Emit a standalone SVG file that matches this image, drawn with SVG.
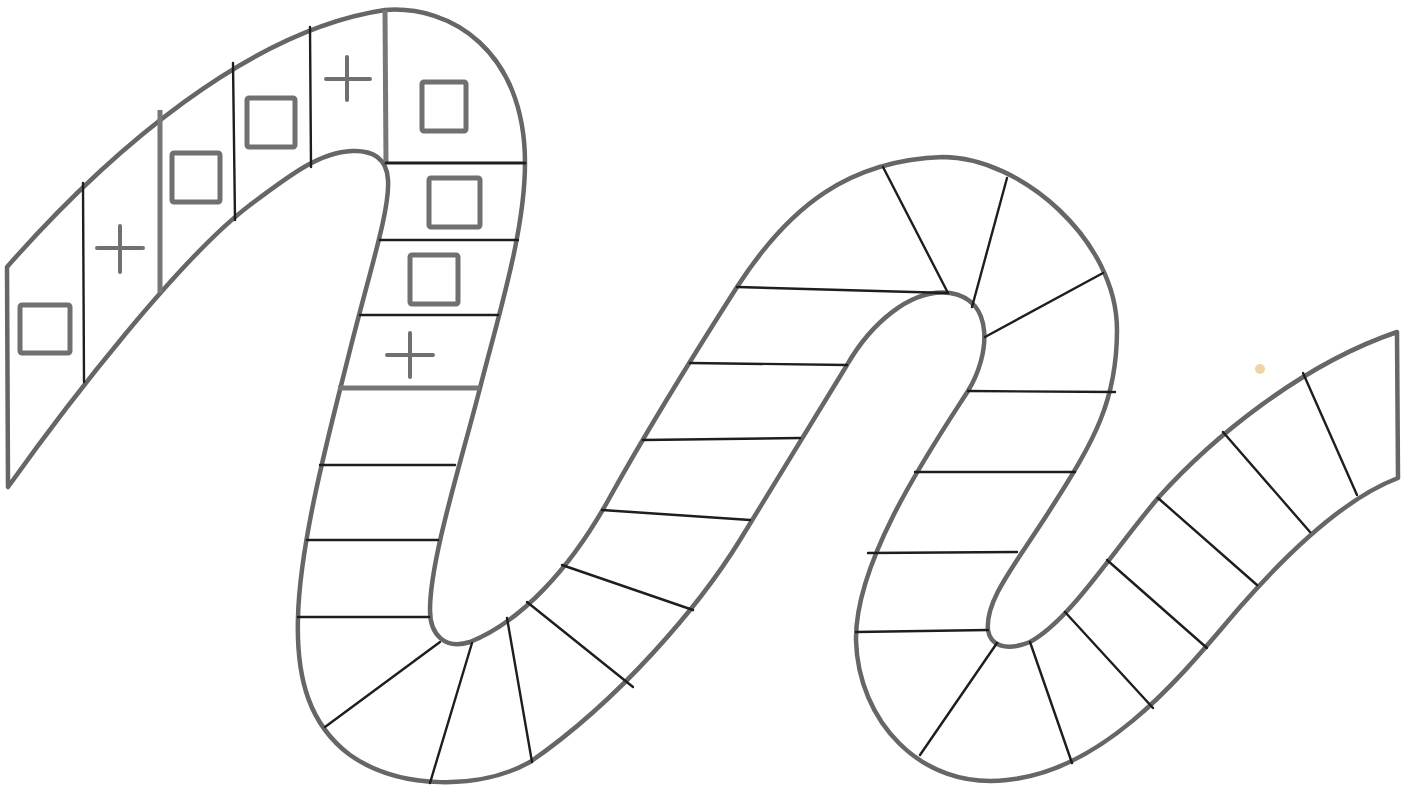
<svg xmlns="http://www.w3.org/2000/svg" width="1409" height="787" viewBox="0 0 1409 787">
<style>
.outline{fill:#fff;stroke:#666;stroke-width:4.5;stroke-linejoin:round}
.div{stroke:#1e1e1e;stroke-width:2.4;stroke-linecap:round;fill:none}
.thick{stroke:#777;stroke-width:5;stroke-linecap:butt;fill:none}
.sq{fill:none;stroke:#707070;stroke-width:5}
.plus{stroke:#707070;stroke-width:4;stroke-linecap:round;fill:none}
</style>
<rect width="1409" height="787" fill="#fff"/>
<g id="track">
<path class="outline" d="M7,267 C110,150 250,30 385,10 C450,5 525,50 525,163 C525,230 500,310 480,388 C460,466 430,560 430,610 C430,635 445,650 470,642 C520,622 570,570 610,497 C650,425 700,345 737,287 C790,205 850,160 943,157 C1020,157 1117,240 1117,330 C1117,400 1095,440 1050,510 C1015,565 985,600 988,630 C990,645 1005,652 1030,642 C1070,620 1110,555 1158,498 C1210,440 1300,365 1397,332 L1398,478 C1345,498 1290,550 1240,607 C1190,665 1110,770 1007,780 C920,790 858,720 856,640 C855,560 930,450 968,391 C990,355 995,300 950,293 C910,288 870,325 847,365 C820,410 780,475 740,540 C700,605 620,700 530,762 C480,790 400,790 350,755 C310,725 296,680 298,617 C300,540 330,430 350,350 C370,270 390,210 388,180 C387,158 372,150 352,151 C320,152 290,175 250,205 C180,258 70,400 8,487 Z"/>
</g>
<g id="dividers">
<line class="div" x1="83" y1="183" x2="84" y2="382"/>
<line class="thick" x1="160" y1="110" x2="160" y2="293"/>
<line class="div" x1="233" y1="63" x2="235" y2="220"/>
<line class="div" x1="310" y1="27" x2="311" y2="167"/>
<line class="thick" x1="385" y1="10" x2="386" y2="163"/>
<line class="div" x1="386" y1="163" x2="525" y2="163" style="stroke-width:3"/>
<line class="div" x1="380" y1="240" x2="518" y2="240"/>
<line class="div" x1="360" y1="315" x2="498" y2="315"/>
<line class="thick" x1="338" y1="388" x2="480" y2="388"/>
<line class="div" x1="320" y1="465" x2="455" y2="465"/>
<line class="div" x1="307" y1="540" x2="438" y2="540"/>
<line class="div" x1="298" y1="617" x2="429" y2="617"/>
<line class="div" x1="325" y1="727" x2="440" y2="642"/>
<line class="div" x1="430" y1="783" x2="472" y2="643"/>
<line class="div" x1="532" y1="762" x2="507" y2="618"/>
<line class="div" x1="633" y1="687" x2="527" y2="602"/>
<line class="div" x1="693" y1="610" x2="562" y2="565"/>
<line class="div" x1="602" y1="510" x2="750" y2="520"/>
<line class="div" x1="643" y1="440" x2="800" y2="438"/>
<line class="div" x1="690" y1="363" x2="847" y2="365"/>
<line class="div" x1="737" y1="287" x2="948" y2="293"/>
<line class="div" x1="883" y1="167" x2="948" y2="293"/>
<line class="div" x1="1007" y1="178" x2="972" y2="307"/>
<line class="div" x1="1103" y1="273" x2="985" y2="337"/>
<line class="div" x1="968" y1="391" x2="1115" y2="392"/>
<line class="div" x1="915" y1="472" x2="1075" y2="472"/>
<line class="div" x1="868" y1="553" x2="1017" y2="552"/>
<line class="div" x1="856" y1="632" x2="988" y2="630"/>
<line class="div" x1="997" y1="643" x2="920" y2="755"/>
<line class="div" x1="1030" y1="642" x2="1072" y2="763"/>
<line class="div" x1="1065" y1="612" x2="1153" y2="708"/>
<line class="div" x1="1107" y1="560" x2="1207" y2="648"/>
<line class="div" x1="1158" y1="498" x2="1257" y2="585"/>
<line class="div" x1="1223" y1="432" x2="1310" y2="532"/>
<line class="div" x1="1303" y1="373" x2="1357" y2="495"/>
</g>
<g id="symbols">
<rect class="sq" x="20" y="305" width="50" height="48" rx="2"/>
<rect class="sq" x="172" y="153" width="48" height="49" rx="2"/>
<rect class="sq" x="247" y="98" width="48" height="49" rx="2"/>
<rect class="sq" x="422" y="82" width="44" height="49" rx="2"/>
<rect class="sq" x="429" y="178" width="51" height="49" rx="2"/>
<rect class="sq" x="410" y="255" width="48" height="49" rx="2"/>
<path class="plus" d="M97,248 H143 M120,226 V272"/>
<path class="plus" d="M326,79 H370 M347,57 V100"/>
<path class="plus" d="M387,355 H433 M410,333 V377"/>
</g>
<circle cx="1260" cy="369" r="5" fill="#f0d3a6"/>
</svg>
